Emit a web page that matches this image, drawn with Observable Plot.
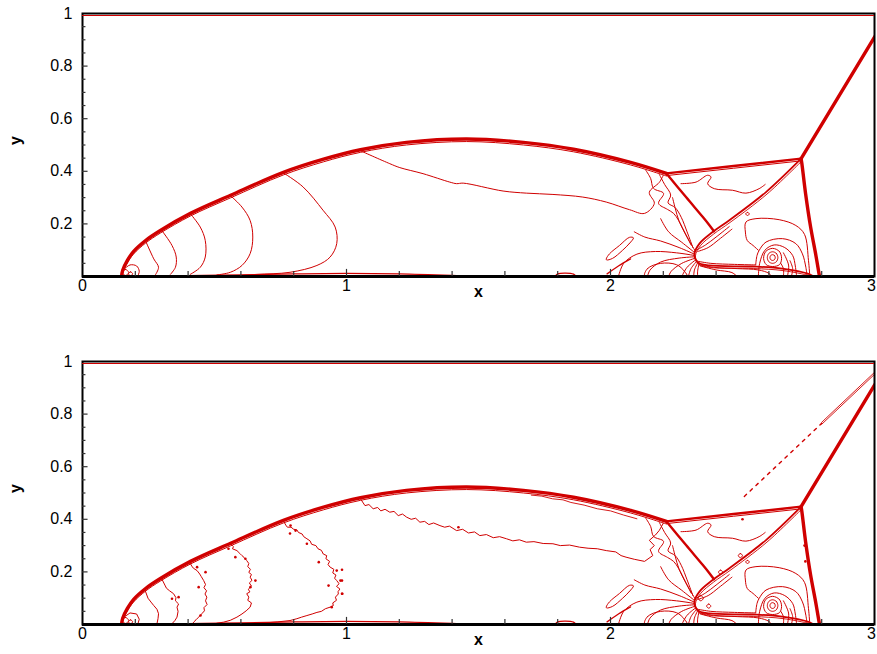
<!DOCTYPE html>
<html><head><meta charset="utf-8">
<script src="https://cdn.jsdelivr.net/npm/d3@7"></script>
<script src="https://cdn.jsdelivr.net/npm/@observablehq/plot@0.6"></script>
<style>
body{margin:0;background:#fff;}
#chart{width:877px;height:654px;}
#chart svg{display:block;}
#chart svg text{font-size:16px;font-family:'Liberation Sans', Arial, sans-serif;}
</style></head><body><div id="chart"></div>
<script>
const RED = "#d00000";
// axis ticks
const xTickLabels = [0, 1, 2];
const xLastLabel = [3];
const yTickLabels = [0.2, 0.4, 0.6, 0.8, 1];
const xMinorTicks = [0.2,0.4,0.6,0.8,1.2,1.4,1.6,1.8,2.2,2.4,2.6,2.8];
const xMajorTicks = [1, 2];
const yMajorTicks = [0.2, 0.4, 0.6, 0.8];
const yMinorTicks = [0.05,0.1,0.15,0.25,0.3,0.35,0.45,0.5,0.55,0.65,0.7,0.75,0.85,0.9,0.95];

// shocks (shared by both panels)
const bowShock = [[0.148,0.0],[0.152,0.023],[0.170,0.061],[0.193,0.095],[0.239,0.137],[0.295,0.175],[0.409,0.240],[0.561,0.309],[0.761,0.396],[0.913,0.446],[1.053,0.482],[1.227,0.510],[1.455,0.523],[1.670,0.510],[1.860,0.484],[2.076,0.434],[2.212,0.392]];
const kinkToTriple = [[2.212,0.392],[2.466,0.420],[2.722,0.448]];
const incidentShock = [[2.722,0.448],[3.0,0.910],[3.02,0.943]];
const machStem = [[2.722,0.448],[2.725,0.429],[2.739,0.315],[2.758,0.188],[2.777,0.086],[2.790,0.010],[2.792,0.0]];
const reflectedShock = [[2.212,0.392],[2.286,0.302],[2.349,0.227],[2.374,0.196],[2.392,0.172]];
const slipLine = [[2.722,0.448],[2.589,0.321],[2.449,0.213],[2.387,0.169],[2.337,0.125],[2.318,0.086],[2.330,0.054],[2.374,0.042],[2.538,0.038],[2.650,0.030],[2.750,0.010],[2.770,0.0]];

// contours of the reflection region (shared)
const fanLines = [
 [[2.322,0.095],[2.29,0.15],[2.26,0.21],[2.245,0.26],[2.235,0.30]],
 [[2.32,0.09],[2.27,0.13],[2.22,0.17],[2.19,0.22]],
 [[2.318,0.085],[2.26,0.11],[2.19,0.135],[2.13,0.15],[2.09,0.17]],
 [[2.318,0.08],[2.25,0.09],[2.17,0.095],[2.10,0.085],[2.05,0.05],[2.03,0.0]],
 [[2.32,0.075],[2.26,0.07],[2.19,0.055],[2.15,0.025],[2.14,0.0]],
 [[2.322,0.07],[2.27,0.05],[2.23,0.02],[2.22,0.0]],
 [[2.325,0.065],[2.29,0.035],[2.27,0.0]],
 [[2.328,0.06],[2.305,0.03],[2.295,0.0]],
 [[2.332,0.056],[2.318,0.025],[2.315,0.0]],
 [[2.336,0.052],[2.33,0.02],[2.33,0.0]]
];
const jetLines = [
 [[2.33,0.058],[2.38,0.05],[2.47,0.046],[2.55,0.044]],
 [[2.335,0.045],[2.39,0.035],[2.48,0.03],[2.56,0.025],[2.60,0.012],[2.61,0.0]],
 [[2.34,0.04],[2.40,0.025],[2.46,0.015],[2.48,0.0]],
 [[2.325,0.10],[2.36,0.12],[2.40,0.15],[2.45,0.19]],
 [[2.33,0.095],[2.37,0.11],[2.41,0.14],[2.46,0.18]]
];
const wigglyLeft = [
 [[2.133,0.405],[2.152,0.373],[2.163,0.335],[2.201,0.316],[2.182,0.278],[2.216,0.255],[2.239,0.240],[2.258,0.213],[2.285,0.16],[2.305,0.12]],
 [[2.185,0.388],[2.205,0.35],[2.228,0.31],[2.218,0.28],[2.245,0.262],[2.268,0.225],[2.29,0.17],[2.312,0.11]]
];
const upperRegion = [[2.267,0.353],[2.324,0.359],[2.368,0.385],[2.381,0.378],[2.368,0.353],[2.393,0.334],[2.462,0.328],[2.513,0.317],[2.563,0.334],[2.586,0.350]];
const outerVortex = [[2.56,0.10],[2.54,0.118],[2.518,0.137],[2.511,0.169],[2.513,0.207],[2.551,0.220],[2.639,0.216],[2.702,0.194],[2.735,0.16],[2.75,0.06],[2.755,0.0]];
const innerVortex = [[2.55,0.045],[2.555,0.08],[2.563,0.099],[2.589,0.131],[2.651,0.144],[2.702,0.125],[2.727,0.086],[2.740,0.035],[2.745,0.0]];
const vortexArcs = [
 [[2.56,0.0],[2.565,0.05],[2.585,0.10],[2.62,0.12],[2.66,0.11],[2.69,0.08],[2.70,0.04],[2.705,0.0]],
 [[2.67,0.0],[2.675,0.04],[2.665,0.07],[2.655,0.09]],
 [[2.685,0.0],[2.69,0.03],[2.68,0.06]],
 [[2.655,0.0],[2.655,0.03],[2.645,0.05]]
];
const vortexRings = [
 [[2.624,0.072],[2.621,0.080],[2.614,0.083],[2.607,0.080],[2.604,0.072],[2.607,0.064],[2.614,0.061],[2.621,0.064]],
 [[2.634,0.072],[2.628,0.088],[2.614,0.094],[2.600,0.088],[2.594,0.072],[2.600,0.056],[2.614,0.050],[2.628,0.056]],
 [[2.648,0.068],[2.640,0.095],[2.614,0.107],[2.588,0.095],[2.580,0.068],[2.590,0.045],[2.614,0.038],[2.640,0.045]],
 [[2.526,0.238],[2.519,0.244],[2.512,0.238],[2.519,0.232]],
 [[2.087,0.147],[2.072,0.126],[2.045,0.099],[2.008,0.069],[1.985,0.063],[1.984,0.067],[1.996,0.086],[2.034,0.118],[2.072,0.149]],
 [[2.13,0.0],[2.14,0.03],[2.19,0.05],[2.25,0.045],[2.28,0.02],[2.29,0.0]]
];
const wallContours = [
 [[0.40,0.003],[0.60,0.006],[0.80,0.010],[1.00,0.012],[1.20,0.010],[1.40,0.004],[1.50,0.0]],
 [[1.79,0.0],[1.80,0.010],[1.83,0.013],[1.86,0.009],[1.87,0.0]],
 [[1.987,0.010],[2.03,0.04],[2.076,0.067]]
];

// top panel (smooth) contours
const arcsTop = [
 [[0.761,0.394],[0.835,0.341],[0.911,0.252],[0.957,0.188],[0.963,0.125],[0.938,0.074],[0.888,0.042],[0.786,0.016],[0.660,0.008],[0.585,0.003]],
 [[0.561,0.307],[0.604,0.264],[0.635,0.213],[0.645,0.150],[0.635,0.087],[0.604,0.042],[0.560,0.016],[0.509,0.006]],
 [[0.409,0.238],[0.446,0.188],[0.465,0.137],[0.465,0.074],[0.446,0.035],[0.408,0.008]],
 [[0.301,0.174],[0.339,0.118],[0.355,0.074],[0.352,0.035],[0.333,0.008]],
 [[0.239,0.135],[0.270,0.067],[0.288,0.035],[0.276,0.006]],
 [[0.16,0.030],[0.18,0.044],[0.205,0.040],[0.215,0.020],[0.21,0.003]]
];
const footLoops = [
 [[0.175,0.015],[0.163,0.027],[0.151,0.015],[0.163,0.004]],
 [[0.19,0.010],[0.182,0.018],[0.174,0.010],[0.182,0.003]]
];
const midContourTop = [[1.053,0.478],[1.164,0.429],[1.202,0.414],[1.290,0.391],[1.391,0.359],[1.417,0.353],[1.442,0.355],[1.593,0.325],[1.681,0.317],[1.782,0.312],[1.895,0.302],[1.984,0.283],[2.072,0.254],[2.129,0.240],[2.166,0.278],[2.147,0.320],[2.185,0.358],[2.200,0.385]];

// bottom panel (noisy) contours
const arcsBottom = [
 [[0.761,0.394],[0.770,0.378],[0.776,0.370],[0.790,0.370],[0.800,0.362],[0.812,0.360],[0.818,0.350],[0.832,0.344],[0.838,0.334],[0.850,0.326],[0.862,0.318],[0.868,0.305],[0.884,0.300],[0.892,0.288],[0.905,0.282],[0.912,0.268],[0.925,0.262],[0.922,0.250],[0.936,0.240],[0.930,0.228],[0.938,0.218],[0.952,0.210],[0.948,0.196],[0.960,0.188],[0.955,0.176],[0.963,0.167],[0.972,0.155],[0.962,0.145],[0.975,0.135],[0.968,0.125],[0.969,0.116],[0.958,0.104],[0.962,0.092],[0.948,0.082],[0.950,0.072],[0.938,0.066],[0.920,0.060],[0.905,0.050],[0.888,0.046],[0.870,0.040],[0.850,0.034],[0.830,0.028],[0.812,0.022],[0.786,0.015],[0.740,0.010],[0.690,0.006],[0.635,0.003]],
 [[0.561,0.307],[0.572,0.296],[0.568,0.288],[0.585,0.281],[0.596,0.270],[0.604,0.262],[0.612,0.255],[0.622,0.243],[0.630,0.232],[0.626,0.220],[0.636,0.210],[0.630,0.198],[0.640,0.190],[0.635,0.180],[0.642,0.168],[0.632,0.158],[0.640,0.146],[0.628,0.134],[0.634,0.124],[0.622,0.117],[0.630,0.104],[0.626,0.092],[0.640,0.082],[0.635,0.066],[0.620,0.052],[0.604,0.040],[0.585,0.028],[0.560,0.016],[0.535,0.009],[0.509,0.005]],
 [[0.405,0.238],[0.414,0.222],[0.420,0.214],[0.434,0.205],[0.444,0.192],[0.450,0.182],[0.459,0.167],[0.466,0.152],[0.460,0.140],[0.470,0.128],[0.464,0.116],[0.471,0.104],[0.466,0.090],[0.472,0.076],[0.460,0.064],[0.462,0.052],[0.452,0.041],[0.440,0.028],[0.430,0.018],[0.421,0.009],[0.416,0.0]],
 [[0.301,0.172],[0.312,0.150],[0.318,0.138],[0.330,0.128],[0.345,0.117],[0.354,0.102],[0.352,0.090],[0.364,0.078],[0.358,0.066],[0.362,0.050],[0.358,0.028],[0.350,0.015],[0.339,0.003]],
 [[0.236,0.133],[0.248,0.100],[0.262,0.082],[0.270,0.072],[0.282,0.058],[0.288,0.041],[0.286,0.022],[0.282,0.003]],
 [[0.16,0.030],[0.18,0.044],[0.205,0.040],[0.215,0.020],[0.21,0.003]]
];
const midContourBottom = [[1.053,0.478],[1.070,0.452],[1.085,0.456],[1.101,0.440],[1.118,0.445],[1.130,0.432],[1.146,0.438],[1.164,0.427],[1.180,0.430],[1.196,0.414],[1.212,0.420],[1.228,0.408],[1.245,0.400],[1.262,0.404],[1.278,0.389],[1.296,0.392],[1.312,0.380],[1.330,0.386],[1.354,0.376],[1.372,0.370],[1.390,0.374],[1.417,0.357],[1.440,0.362],[1.462,0.348],[1.485,0.352],[1.505,0.338],[1.530,0.342],[1.556,0.330],[1.580,0.334],[1.606,0.326],[1.630,0.318],[1.655,0.322],[1.681,0.313],[1.710,0.315],[1.745,0.308],[1.782,0.307],[1.810,0.300],[1.845,0.302],[1.883,0.294],[1.915,0.290],[1.950,0.288],[1.984,0.281],[2.020,0.276],[2.040,0.262],[2.059,0.256],[2.090,0.248],[2.129,0.240],[2.160,0.262],[2.150,0.285],[2.166,0.300],[2.147,0.320],[2.170,0.340],[2.185,0.358],[2.200,0.385]];
const underShockBottom = [[1.70,0.492],[1.74,0.488],[1.78,0.478],[1.82,0.474],[1.85,0.464],[1.90,0.454],[1.95,0.440],[2.00,0.432],[2.05,0.416],[2.10,0.402]];
const bottomLoops = [
 [[2.425,0.199],[2.417,0.207],[2.409,0.199],[2.417,0.191]],
 [[2.500,0.262],[2.492,0.270],[2.484,0.262],[2.492,0.254]],
 [[2.352,0.100],[2.342,0.110],[2.332,0.100],[2.342,0.090]],
 [[2.380,0.070],[2.372,0.078],[2.364,0.070],[2.372,0.062]]
];
const bottomDots = [[0.788,0.376],[0.807,0.357],[0.850,0.307],[0.895,0.237],[0.963,0.205],[0.977,0.167],[0.932,0.148],[0.984,0.117],[0.944,0.066],[0.553,0.288],[0.579,0.256],[0.617,0.250],[0.655,0.167],[0.636,0.142],[0.447,0.034],[0.434,0.218],[0.466,0.199],[0.440,0.142],[0.339,0.098],[0.364,0.104],[0.786,0.346],[0.983,0.208],[0.983,0.167],[0.983,0.117],[1.424,0.370],[2.735,0.30],[2.738,0.24],[2.50,0.40]];
const spuriousDashed = [[2.507,0.487],[2.800,0.765]];
const spuriousSolid = [[2.800,0.765],[3.000,0.955]];

function toRows(curves){ return curves.flatMap((c,i)=>c.map(([x,y])=>({x,y,id:i}))); }
function lines(curves, o={}){
  return Plot.line(toRows(curves), {x:"x", y:"y", z:"id", stroke:RED, strokeWidth:1, curve:"catmull-rom", clip:true, ...o});
}

function shockMarks(){
  return [
    lines([bowShock], {strokeWidth:3.4}),
    lines([bowShock], {strokeWidth:1, dy:2.6}),
    lines([kinkToTriple], {strokeWidth:2.4, curve:"linear"}),
    lines([kinkToTriple], {strokeWidth:1, dy:2.2, curve:"linear"}),
    lines([incidentShock], {strokeWidth:3.4, curve:"linear"}),
    lines([machStem], {strokeWidth:3.4}),
    lines([reflectedShock], {strokeWidth:2.4}),
    lines([slipLine], {strokeWidth:1.8}),
    lines([slipLine], {strokeWidth:0.9, dy:2, dx:1}),
    lines(fanLines),
    lines(jetLines),
    lines(wigglyLeft),
    lines([upperRegion]),
    lines([outerVortex]),
    lines([innerVortex]),
    lines(vortexArcs),
    lines(vortexRings, {curve:"catmull-rom-closed"}),
    lines(wallContours, {strokeWidth:1.3})
  ];
}

function frameMarks(){
  return [
    Plot.frame({stroke:"black", strokeWidth:2}),
    Plot.ruleY([0], {stroke:"black", strokeWidth:3}),
    Plot.ruleY([1], {stroke:RED, strokeWidth:1, dy:2}),
    Plot.ruleX(xMinorTicks, {x:d=>d, y1:0, y2:0.019, stroke:"#333", strokeWidth:1.2}),
    Plot.ruleX(xMajorTicks, {x:d=>d, y1:0, y2:0.027, stroke:"#333", strokeWidth:1.2}),
    Plot.ruleY(yMajorTicks, {y:d=>d, x1:0, x2:0.021, stroke:"#333", strokeWidth:1.2}),
    Plot.ruleY(yMinorTicks, {y:d=>d, x1:0, x2:0.013, stroke:"#333", strokeWidth:1.2}),
    Plot.axisX(xTickLabels, {tickSize:0, tickPadding:3, tickFormat:d=>String(d), label:null}),
    Plot.axisX(xLastLabel, {tickSize:0, tickPadding:3, tickFormat:d=>String(d), label:null, dx:-3}),
    Plot.axisY(yTickLabels, {tickSize:0, tickPadding:10, tickFormat:d=>String(d), label:null}),
    Plot.text(["x"], {frameAnchor:"bottom", dy:20, text:d=>d, fontWeight:"bold"}),
    Plot.text(["y"], {frameAnchor:"left", dx:-67, rotate:-90, text:d=>d, fontWeight:"bold"})
  ];
}

function panel(marks, height, marginTop, marginBottom){
  return Plot.plot({
    width:877, height, marginLeft:82, marginRight:3, marginTop, marginBottom,
    x:{domain:[0,3]}, y:{domain:[0,1]},
    style:{fontFamily:"'Liberation Sans', Arial, sans-serif", fontSize:"16px", color:"black", background:"white"},
    marks:[...marks, ...shockMarks(), ...frameMarks()]
  });
}

const topPanel = panel([
  lines(arcsTop),
  lines(footLoops, {curve:"catmull-rom-closed"}),
  lines([midContourTop])
], 320, 13, 44);

const bottomPanel = panel([
  lines(arcsBottom, {curve:"linear"}),
  lines(footLoops, {curve:"catmull-rom-closed"}),
  lines([midContourBottom], {curve:"linear"}),
  lines([underShockBottom], {curve:"linear", strokeWidth:0.9}),
  lines(bottomLoops, {curve:"catmull-rom-closed"}),
  Plot.dot(bottomDots, {x:d=>d[0], y:d=>d[1], r:1.3, fill:RED, stroke:null}),
  lines([spuriousDashed], {curve:"linear", strokeWidth:1.4, strokeDasharray:"3,5"}),
  lines([spuriousSolid], {curve:"linear", strokeWidth:0.9, dy:-1}),
  lines([spuriousSolid], {curve:"linear", strokeWidth:0.9, dy:1})
], 334, 41, 30);

document.getElementById("chart").append(topPanel, bottomPanel);
</script></body></html>
